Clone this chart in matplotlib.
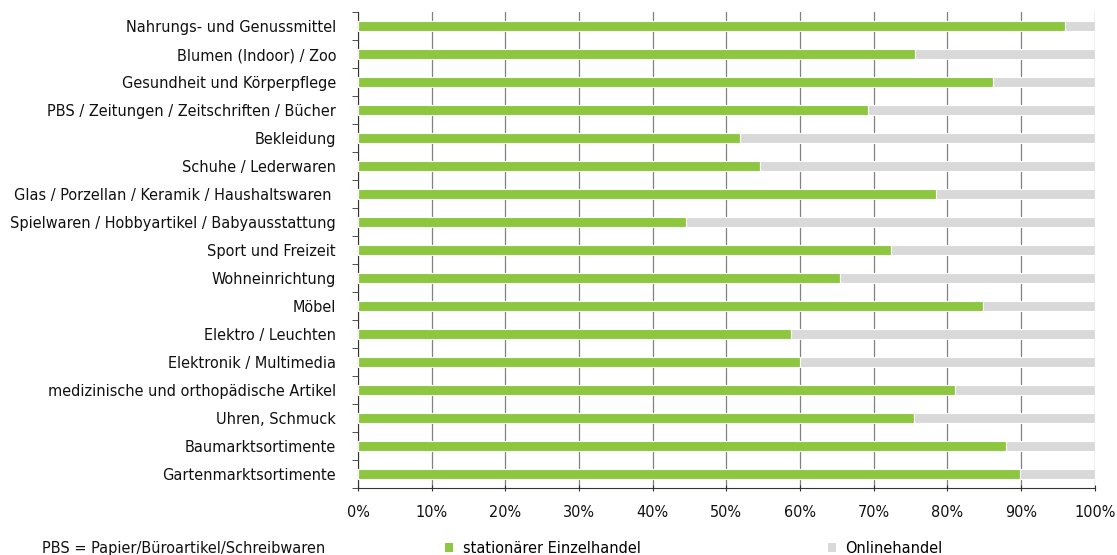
import matplotlib
matplotlib.use("Agg")
import matplotlib.pyplot as plt
from matplotlib.patches import Patch
from matplotlib.ticker import FuncFormatter

plt.rcParams['font.family'] = ['DejaVu Sans']
plt.rcParams['font.stretch'] = 'condensed'

categories = [
    'Nahrungs- und Genussmittel',
    'Blumen (Indoor) / Zoo',
    'Gesundheit und Körperpflege',
    'PBS / Zeitungen / Zeitschriften / Bücher',
    'Bekleidung',
    'Schuhe / Lederwaren',
    'Glas / Porzellan / Keramik / Haushaltswaren ',
    'Spielwaren / Hobbyartikel / Babyausstattung',
    'Sport und Freizeit',
    'Wohneinrichtung',
    'Möbel',
    'Elektro / Leuchten',
    'Elektronik / Multimedia',
    'medizinische und orthopädische Artikel',
    'Uhren, Schmuck',
    'Baumarktsortimente',
    'Gartenmarktsortimente',
]
stationaer = [96.0, 75.6, 86.2, 69.2, 51.8, 54.6, 78.5, 44.5, 72.3,
              65.4, 84.9, 58.8, 60.0, 81.1, 75.5, 88.0, 89.8]
online = [100 - v for v in stationaer]

green = '#8DC63F'
grey = '#D9D9D9'

fig = plt.figure(figsize=(11.17, 5.55), dpi=100)
ax = fig.add_axes([0.3205, 0.1207, 0.6595, 0.857])

y = list(range(len(categories)))
ax.barh(y, stationaer, height=0.36, color=green, edgecolor='white', linewidth=0.8, zorder=3)
ax.barh(y, online, left=stationaer, height=0.36, color=grey, edgecolor='white', linewidth=0.8, zorder=3)

ax.set_xlim(0, 100)
ax.set_ylim(len(categories) - 0.5, -0.5)
ax.set_xticks(range(0, 101, 10))
ax.xaxis.set_major_formatter(FuncFormatter(lambda v, p: f'{int(v)}%'))
ax.set_yticks(y)
ax.set_yticklabels(categories, fontsize=11.6, color='#111111')
ax.set_yticks([i + 0.5 for i in range(-1, len(categories))], minor=True)
ax.tick_params(axis='y', which='major', length=0, pad=15.8)
ax.tick_params(axis='y', which='minor', length=4, direction='out', color='#333333')
ax.tick_params(axis='x', length=5, direction='inout', labelsize=11.6, colors='#333333', labelcolor='#111111', pad=10)

ax.grid(axis='x', color='#808080', linewidth=0.9, zorder=1)
for s in ['top', 'right']:
    ax.spines[s].set_visible(False)
ax.spines['left'].set_color('#333333')
ax.spines['bottom'].set_color('#333333')

handles = [Patch(facecolor=green, label='stationärer Einzelhandel'),
           Patch(facecolor=grey, label='Onlinehandel')]
fig.legend(handles=handles, loc='center left', bbox_to_anchor=(0.3987, 0.011), ncol=2,
           frameon=False, fontsize=11.6, handlelength=0.5, handleheight=0.5,
           columnspacing=11.6, handletextpad=0.6, borderpad=0, borderaxespad=0)
fig.text(0.0376, 0.011, 'PBS = Papier/Büroartikel/Schreibwaren', fontsize=11.6,
         va='center', ha='left', color='#111111')

fig.savefig('out.png', dpi=100)
